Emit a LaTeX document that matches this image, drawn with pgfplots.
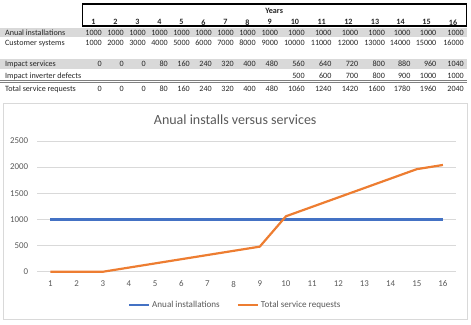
\documentclass[border=0pt]{standalone}
\usepackage{fontspec}
\setmainfont{Carlito}
\usepackage{pgfplots}
\pgfplotsset{compat=1.18}
\definecolor{xblue}{HTML}{4472C4}
\definecolor{xorange}{HTML}{ED7D31}
\definecolor{xgrid}{HTML}{D9D9D9}
\definecolor{xtext}{HTML}{595959}
\definecolor{band}{HTML}{D9D9D9}
\begin{document}
\begin{tikzpicture}
\path (0pt,0pt) rectangle (471pt,325pt);
\begin{scope}[shift={(0pt,325pt)},x=1pt,y=-1pt]
  \fill[band] (0,28) rectangle (467,37.5);
  \fill[band] (0,59.5) rectangle (467,69);
  \draw[line width=1.4pt] (82,4) rectangle (466.5,26);
  \draw[gray, line width=0.8pt] (0,80) -- (467,80);
  \draw[gray, line width=0.8pt] (0,82.3) -- (467,82.3);
  \draw[xgrid, line width=0.75pt] (3,103) rectangle (467,320);
  \begin{scope}[every node/.style={font=\fontsize{8.1}{9}\selectfont, inner sep=0pt, text=black!85}]
    \node[font=\fontsize{8.1}{9}\selectfont\bfseries] at (274,10.5) {Years};
    \node[anchor=west] at (4.5,33) {Anual installations};
    \node[anchor=west] at (4.5,43.3) {Customer systems};
    \node[anchor=west] at (4.5,64) {Impact services};
    \node[anchor=west] at (4.5,76) {Impact inverter defects};
    \node[anchor=west] at (4.5,89) {Total service requests};
    \foreach \h/\r/\a/\c/\s/\t [count=\i] in {
      93.2/101.7/1000/1000/0/0,
      115.2/123.7/1000/2000/0/0,
      137.2/145.7/1000/3000/0/0,
      159.2/167.7/1000/4000/80/80,
      181.2/189.7/1000/5000/160/160,
      203.2/211.7/1000/6000/240/240,
      225.2/233.7/1000/7000/320/320,
      247.2/255.7/1000/8000/400/400,
      269.5/278/1000/9000/480/480,
      294.7/304.7/1000/10000/560/1060,
      321.5/331.5/1000/11000/640/1240,
      348.3/358.3/1000/12000/720/1420,
      375/385/1000/13000/800/1600,
      400.5/410.5/1000/14000/880/1780,
      426.5/436.5/1000/15000/960/1960,
      453/464/1000/16000/1040/2040} {
      \node[font=\fontsize{8.1}{9}\selectfont\bfseries] at (\h,22.3) {\i};
      \node[anchor=east] at (\r,33) {\a};
      \node[anchor=east] at (\r,43.3) {\c};
      \node[anchor=east] at (\r,64) {\s};
      \node[anchor=east] at (\r,89) {\t};
    }
    \foreach \r/\d in {304.7/500, 331.5/600, 358.3/700, 385/800, 410.5/900, 436.5/1000, 464/1000} {
      \node[anchor=east] at (\r,76) {\d};
    }
  \end{scope}
  \node[font=\fontsize{14}{16}\selectfont, text=xtext] at (235,120) {Anual installs versus services};
\end{scope}
\begin{axis}[
  at={(37pt,53pt)}, anchor=south west,
  scale only axis, width=419pt, height=131pt,
  xmin=0.5, xmax=16.5, ymin=0, ymax=2500,
  xtick={1,...,16}, ytick={0,500,...,2500},
  ymajorgrids, grid style={xgrid, line width=0.75pt},
  axis line style={draw=none}, tick style={draw=none},
  /pgf/number format/assume math mode=true,
  /pgf/number format/1000 sep={},
  ticklabel style={font=\fontsize{8.9}{10}\selectfont, text=xtext, inner sep=0pt},
  yticklabel style={xshift=-9pt},
  xticklabel style={yshift=-9pt},
  legend style={at={(0.4726,-0.252)}, anchor=center, draw=none, fill=none,
    font=\fontsize{9.1}{10}\selectfont, text=xtext, legend columns=2,
    /tikz/every even column/.append style={column sep=15pt}},
  legend image code/.code={\draw[#1] (0pt,0pt) -- (20pt,0pt);},
  clip=false,
]
\addplot[xblue, line width=2.2pt] coordinates {(1,1000)(2,1000)(3,1000)(4,1000)(5,1000)(6,1000)(7,1000)(8,1000)(9,1000)(10,1000)(11,1000)(12,1000)(13,1000)(14,1000)(15,1000)(16,1000)};
\addlegendentry{Anual installations}
\addplot[xorange, line width=2.2pt] coordinates {(1,0)(2,0)(3,0)(4,80)(5,160)(6,240)(7,320)(8,400)(9,480)(10,1060)(11,1240)(12,1420)(13,1600)(14,1780)(15,1960)(16,2040)};
\addlegendentry{Total service requests}
\end{axis}
\end{tikzpicture}
\end{document}
